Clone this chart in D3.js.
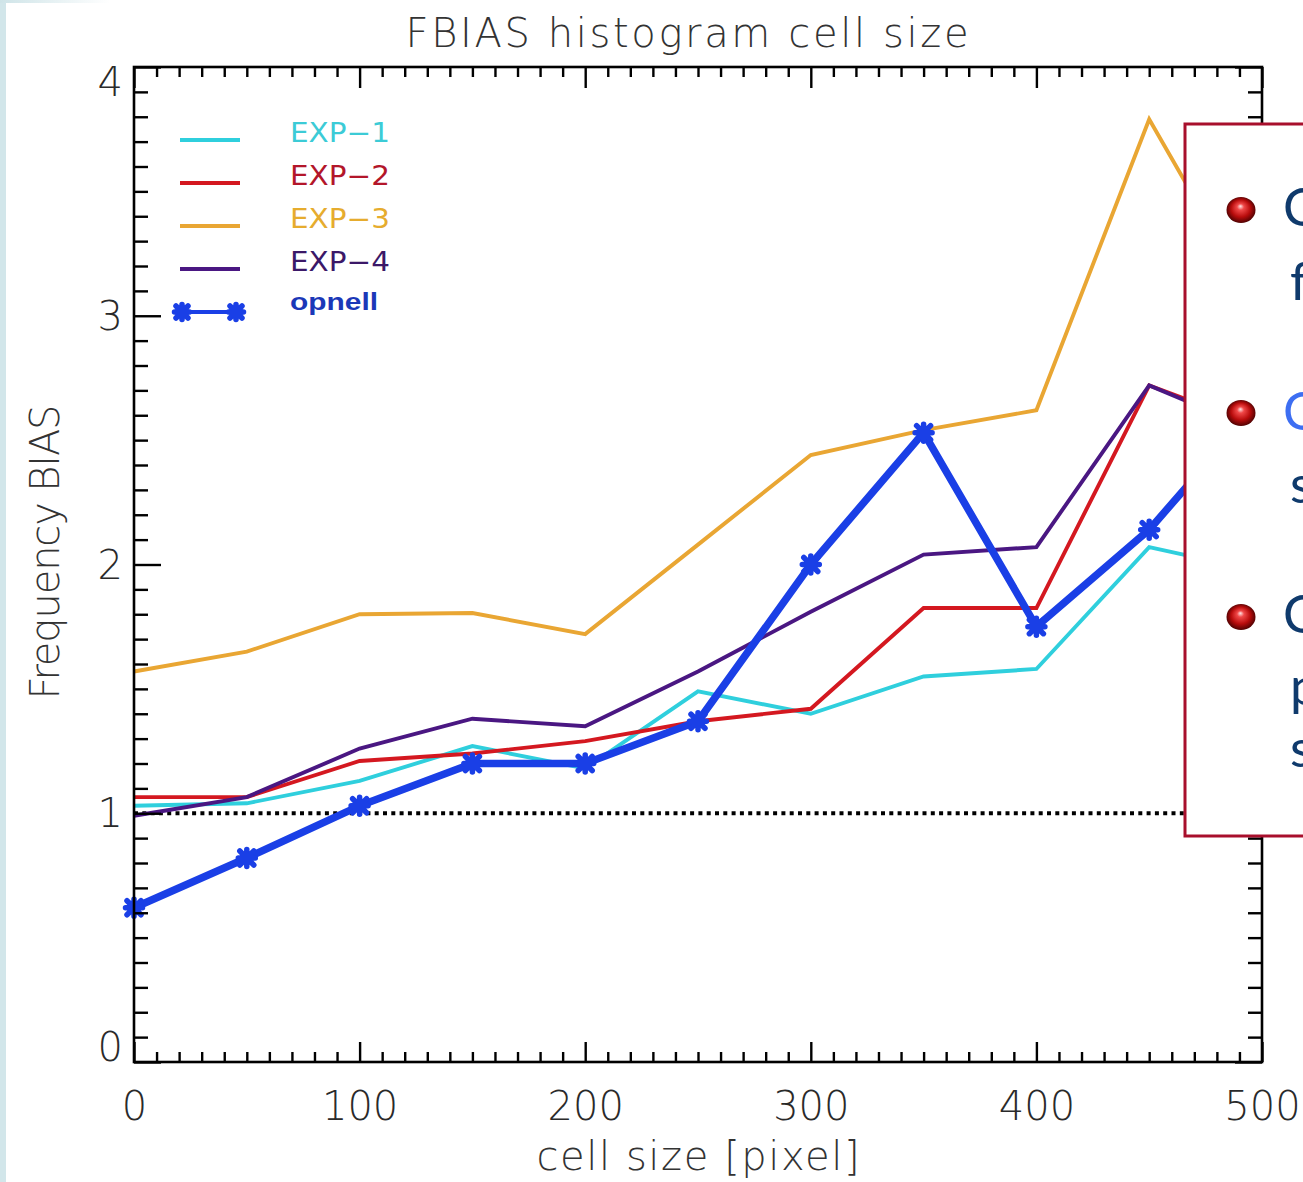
<!DOCTYPE html>
<html>
<head>
<meta charset="utf-8">
<script src="https://cdn.jsdelivr.net/npm/d3@7"></script>
<style>
  html, body { margin: 0; padding: 0; background: #fff; }
  svg { display: block; }
</style>
</head>
<body>
<script>
// ---- data -------------------------------------------------------------
const cellSizes = [0, 50, 100, 150, 200, 250, 300, 350, 400, 450, 500];
const exp1   = [1.03, 1.04, 1.13, 1.27, 1.18, 1.49, 1.40, 1.55, 1.58, 2.07, 1.97];
const exp2   = [1.065, 1.065, 1.21, 1.24, 1.29, 1.37, 1.42, 1.825, 1.825, 2.72, 2.55];
const exp3   = [1.57, 1.65, 1.80, 1.805, 1.72, 2.08, 2.44, 2.54, 2.62, 3.79, 3.0];
const exp4   = [0.99, 1.065, 1.26, 1.38, 1.35, 1.57, 1.81, 2.04, 2.07, 2.72, 2.53];
const opnell = [0.62, 0.82, 1.03, 1.20, 1.20, 1.37, 2.00, 2.53, 1.75, 2.14, 2.66];

const seriesNames = ["EXP−1", "EXP−2", "EXP−3", "EXP−4", "opnell"];
const xTickValues = [0, 100, 200, 300, 400, 500];
const yTickValues = [0, 1, 2, 3, 4];
const referenceLevel = 1;

const titleText  = "FBIAS histogram cell size";
const xTitleText = "cell size [pixel]";
const yTitleText = "Frequency BIAS";

// bullet notes in the framed panel (each item is a list of wrapped lines)
const noteItems = [["C", "f"], ["C", "s"], ["C", "p", "s"]];

// ---- layout -----------------------------------------------------------
const W = 1303, H = 1182;
const plot = { left: 134, right: 1262, top: 67, bottom: 1062 };
const lineColors  = ["#2fcfdd", "#d41820", "#e9a633", "#4a1782", "#1a3fe6"];
const labelColors = ["#3ccbd6", "#b3162a", "#e6ac2e", "#3b1868", "#1b38b8"];
const ink = "#2a2a2a";
const thinFont = "'DejaVu Sans', sans-serif";

const svg = d3.select("body").append("svg")
  .attr("width", W).attr("height", H)
  .attr("viewBox", `0 0 ${W} ${H}`);

const defs = svg.append("defs");
const edgeGrad = defs.append("linearGradient").attr("id", "edgeFade")
  .attr("x1", 0).attr("x2", 1).attr("y1", 0).attr("y2", 0);
edgeGrad.append("stop").attr("offset", 0).attr("stop-color", "#cfe4e8");
edgeGrad.append("stop").attr("offset", 1).attr("stop-color", "#ffffff");

const sphere = defs.append("radialGradient").attr("id", "sphere")
  .attr("cx", "50%").attr("cy", "50%").attr("r", "55%")
  .attr("fx", "48%").attr("fy", "35%");
sphere.append("stop").attr("offset", "0%").attr("stop-color", "#ffe6e6");
sphere.append("stop").attr("offset", "22%").attr("stop-color", "#f04848");
sphere.append("stop").attr("offset", "60%").attr("stop-color", "#b80c0c");
sphere.append("stop").attr("offset", "100%").attr("stop-color", "#3a0000");

svg.append("rect").attr("width", W).attr("height", H).attr("fill", "#fff");
// slide edge tint
svg.append("rect").attr("x", 0).attr("y", 0).attr("width", 6).attr("height", H).attr("fill", "#d2e6ea");
svg.append("rect").attr("x", 0).attr("y", 0).attr("width", 110).attr("height", 3).attr("fill", "url(#edgeFade)");

const x = d3.scaleLinear().domain([0, 500]).range([plot.left, plot.right]);
const y = d3.scaleLinear().domain([0, 4]).range([plot.bottom, plot.top]);

// ---- reference level (dotted) -----------------------------------------
svg.append("line")
  .attr("x1", x(0)).attr("x2", x(500))
  .attr("y1", y(referenceLevel)).attr("y2", y(referenceLevel))
  .attr("stroke", "#000").attr("stroke-width", 3.8)
  .attr("stroke-dasharray", "4,4.3");

// ---- series -----------------------------------------------------------
const line = d3.line().x((d, i) => x(cellSizes[i])).y(d => y(d));
const thinSeries = [exp1, exp2, exp3, exp4];
thinSeries.forEach((vals, k) => {
  svg.append("path").datum(vals)
    .attr("d", line)
    .attr("fill", "none")
    .attr("stroke", lineColors[k])
    .attr("stroke-width", 3.9)
    .attr("stroke-linejoin", "miter");
});

svg.append("path").datum(opnell)
  .attr("d", line)
  .attr("fill", "none")
  .attr("stroke", lineColors[4])
  .attr("stroke-width", 7.5)
  .attr("stroke-linejoin", "round");

// star marker: an X laid over a +
function starPath(cx, cy, a, b) {
  return `M${cx - a},${cy - a}L${cx + a},${cy + a}M${cx - a},${cy + a}L${cx + a},${cy - a}` +
         `M${cx - b},${cy}L${cx + b},${cy}M${cx},${cy - b}L${cx},${cy + b}`;
}
svg.append("g").selectAll("path").data(opnell).join("path")
  .attr("d", (d, i) => starPath(x(cellSizes[i]), y(d), 7, 8.5))
  .attr("stroke", lineColors[4]).attr("stroke-width", 5.5)
  .attr("stroke-linecap", "round").attr("fill", "none");

// ---- axes frame and ticks ---------------------------------------------
const minorX = d3.range(0, 501, 10).filter(v => v % 100 !== 0);
const minorY = d3.range(0, 4.001, 0.1).map(v => +v.toFixed(1)).filter(v => Math.abs(v - Math.round(v)) > 1e-6);

function styleAxis(g) {
  g.select(".domain").remove();
  g.selectAll(".tick line").attr("stroke", "#000").attr("stroke-width", 2.4);
}

// bottom
svg.append("g").attr("transform", `translate(0,${plot.bottom})`)
  .call(d3.axisBottom(x).tickValues(minorX).tickSize(-10).tickFormat(""))
  .call(styleAxis);
const xAxisG = svg.append("g").attr("transform", `translate(0,${plot.bottom})`)
  .call(d3.axisBottom(x).tickValues(xTickValues).tickSize(-20).tickPadding(30).tickFormat(d3.format("d")))
  .call(styleAxis);
xAxisG.selectAll("text")
  .attr("font-family", thinFont).attr("font-weight", 200)
  .attr("font-size", 40).attr("fill", ink).attr("dy", "0.71em");

// top
svg.append("g").attr("transform", `translate(0,${plot.top})`)
  .call(d3.axisTop(x).tickValues(minorX).tickSize(-10).tickFormat(""))
  .call(styleAxis);
svg.append("g").attr("transform", `translate(0,${plot.top})`)
  .call(d3.axisTop(x).tickValues(xTickValues).tickSize(-21).tickFormat(""))
  .call(styleAxis);

// left
svg.append("g").attr("transform", `translate(${plot.left},0)`)
  .call(d3.axisLeft(y).tickValues(minorY).tickSize(-14).tickFormat(""))
  .call(styleAxis);
const yAxisG = svg.append("g").attr("transform", `translate(${plot.left},0)`)
  .call(d3.axisLeft(y).tickValues(yTickValues).tickSize(-27).tickPadding(11).tickFormat(d3.format("d")))
  .call(styleAxis);
yAxisG.selectAll("text")
  .attr("font-family", thinFont).attr("font-weight", 200)
  .attr("font-size", 40).attr("fill", ink)
  .attr("dy", d => d === 4 ? "0.7em" : d === 0 ? "-0.04em" : "0.34em");

// right
svg.append("g").attr("transform", `translate(${plot.right},0)`)
  .call(d3.axisRight(y).tickValues(minorY).tickSize(-14).tickFormat(""))
  .call(styleAxis);
svg.append("g").attr("transform", `translate(${plot.right},0)`)
  .call(d3.axisRight(y).tickValues(yTickValues).tickSize(-27).tickFormat(""))
  .call(styleAxis);

svg.append("rect")
  .attr("x", plot.left).attr("y", plot.top)
  .attr("width", plot.right - plot.left).attr("height", plot.bottom - plot.top)
  .attr("fill", "none").attr("stroke", "#000").attr("stroke-width", 2.6);

// ---- titles -----------------------------------------------------------
svg.append("text").text(titleText)
  .attr("x", 687).attr("y", 47).attr("text-anchor", "middle")
  .attr("font-family", thinFont).attr("font-weight", 200).attr("font-size", 40)
  .attr("fill", "#333").attr("textLength", 563).attr("lengthAdjust", "spacing");

svg.append("text").text(xTitleText)
  .attr("x", 698).attr("y", 1170).attr("text-anchor", "middle")
  .attr("font-family", thinFont).attr("font-weight", 200).attr("font-size", 40)
  .attr("fill", "#333").attr("textLength", 323).attr("lengthAdjust", "spacing");

svg.append("text").text(yTitleText)
  .attr("transform", "translate(59,552) rotate(-90)").attr("text-anchor", "middle")
  .attr("font-family", thinFont).attr("font-weight", 200).attr("font-size", 40)
  .attr("fill", "#333").attr("textLength", 295).attr("lengthAdjust", "spacing");

// ---- legend -----------------------------------------------------------
const legend = svg.append("g");
seriesNames.forEach((name, i) => {
  const ly = 140 + i * 43;
  const isOp = i === 4;
  legend.append("line")
    .attr("x1", isOp ? 182 : 180).attr("x2", isOp ? 236 : 240)
    .attr("y1", ly).attr("y2", ly)
    .attr("stroke", lineColors[i]).attr("stroke-width", 4);
  if (isOp) {
    [182, 236].forEach(mx => legend.append("path")
      .attr("d", starPath(mx, ly, 6, 7.5))
      .attr("stroke", lineColors[i]).attr("stroke-width", 5.5)
      .attr("stroke-linecap", "round").attr("fill", "none"));
  }
  legend.append("text").text(name)
    .attr("x", 290).attr("y", isOp ? ly - 2 : ly + 2)
    .attr("font-family", isOp ? "'Liberation Sans', sans-serif" : thinFont)
    .attr("font-weight", isOp ? 700 : 400)
    .attr("font-size", isOp ? 24 : 26)
    .attr("fill", labelColors[i])
    .attr("textLength", isOp ? 88 : 100).attr("lengthAdjust", "spacingAndGlyphs");
});

// ---- framed note panel (runs past the right page edge) ----------------
const panel = { left: 1185, top: 124, bottom: 836 };
svg.append("rect")
  .attr("x", panel.left).attr("y", panel.top)
  .attr("width", W - panel.left + 20).attr("height", panel.bottom - panel.top)
  .attr("fill", "#fff").attr("stroke", "#a80f2c").attr("stroke-width", 3);

const bulletCentres = [210, 413, 617];
const lineBaselines = [[226, 300], [430, 503], [633, 705, 767]];
const noteColors = ["#0f3a6c", "#3d6ef2", "#0f3a6c"];
noteItems.forEach((lines, k) => {
  svg.append("ellipse")
    .attr("cx", 1241).attr("cy", bulletCentres[k])
    .attr("rx", 14.5).attr("ry", 13)
    .attr("fill", "url(#sphere)");
  lines.forEach((t, j) => {
    svg.append("text").text(t)
      .attr("x", j === 0 ? 1283 : 1290)
      .attr("y", lineBaselines[k][j])
      .attr("font-family", "Lato, 'Open Sans', sans-serif")
      .attr("font-size", 52)
      .attr("fill", j === 0 ? noteColors[k] : "#0f3a6c");
  });
});
</script>
</body>
</html>
